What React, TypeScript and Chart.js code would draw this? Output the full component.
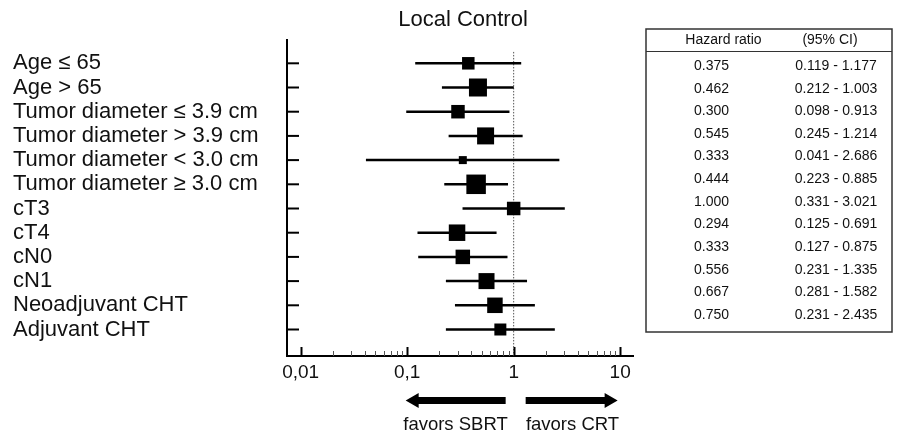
import { useEffect, useRef } from 'react';
import { Chart, registerables } from 'chart.js';

Chart.register(...registerables);

const categories = [
  'Age ≤ 65',
  'Age > 65',
  'Tumor diameter ≤ 3.9 cm',
  'Tumor diameter > 3.9 cm',
  'Tumor diameter < 3.0 cm',
  'Tumor diameter ≥ 3.0 cm',
  'cT3',
  'cT4',
  'cN0',
  'cN1',
  'Neoadjuvant CHT',
  'Adjuvant CHT',
];
const hazardRatio = [0.375, 0.462, 0.3, 0.545, 0.333, 0.444, 1.0, 0.294, 0.333, 0.556, 0.667, 0.75];
const ciLower = [0.119, 0.212, 0.098, 0.245, 0.041, 0.223, 0.331, 0.125, 0.127, 0.231, 0.281, 0.231];
const ciUpper = [1.177, 1.003, 0.913, 1.214, 2.686, 0.885, 3.021, 0.691, 0.875, 1.335, 1.582, 2.435];
// relative study weight shown as the side of each square
const weights = [12.5, 18, 13.5, 17, 8, 19.5, 13.5, 16.5, 14.5, 16, 15.5, 12];
const xTickValues = [0.01, 0.1, 1, 10];
const xTickLabels = ['0,01', '0,1', '1', '10'];
const tableHeaders = ['Hazard ratio', '(95% CI)'];
const arrowLabels = ['favors SBRT', 'favors CRT'];
const chartTitle = 'Local Control';

const FONT = "'Liberation Sans', Arial, Helvetica, sans-serif";

function buildXTicks() {
  const out: { value: number; major?: boolean }[] = [];
  for (let d = 0; d < xTickValues.length; d++) {
    const base = xTickValues[d];
    out.push({ value: base, major: true });
    if (d < xTickValues.length - 1) {
      for (let k = 2; k <= 9; k++) out.push({ value: base * k });
    }
  }
  return out;
}

const decorPlugin = {
  id: 'decor',
  afterDraw(chart: any) {
    const ctx: CanvasRenderingContext2D = chart.ctx;
    const { left, bottom } = chart.chartArea;
    const xs = chart.scales.x;
    const ys = chart.scales.y;
    ctx.save();

    // inward y ticks
    ctx.strokeStyle = '#000';
    ctx.lineWidth = 2;
    ys.ticks.forEach((t: any) => {
      const py = ys.getPixelForValue(t.value);
      ctx.beginPath();
      ctx.moveTo(left, py);
      ctx.lineTo(left + 12, py);
      ctx.stroke();
    });

    // inward x ticks
    xs.ticks.forEach((t: any) => {
      const major = xTickValues.includes(t.value);
      const px = Math.round(xs.getPixelForValue(t.value)) + 0.5;
      ctx.lineWidth = major ? 2 : 1;
      ctx.strokeStyle = major ? '#000' : '#555';
      ctx.beginPath();
      ctx.moveTo(px, bottom);
      ctx.lineTo(px, bottom - (major ? 9 : 5));
      ctx.stroke();
    });

    // title
    ctx.fillStyle = '#111';
    ctx.textAlign = 'center';
    ctx.textBaseline = 'middle';
    ctx.font = `22px ${FONT}`;
    ctx.fillText(chartTitle, 463, 20);

    // arrows
    const ay = 400.5;
    const drawArrow = (fromV: number, toV: number) => {
      const x0 = xs.getPixelForValue(fromV);
      const x1 = xs.getPixelForValue(toV);
      const dir = Math.sign(x1 - x0);
      const headLen = 13;
      const xh = x1 - dir * headLen;
      ctx.beginPath();
      ctx.moveTo(x0, ay - 3.5);
      ctx.lineTo(xh, ay - 3.5);
      ctx.lineTo(xh, ay - 7.5);
      ctx.lineTo(x1, ay);
      ctx.lineTo(xh, ay + 7.5);
      ctx.lineTo(xh, ay + 3.5);
      ctx.lineTo(x0, ay + 3.5);
      ctx.closePath();
      ctx.fill();
    };
    ctx.fillStyle = '#000';
    drawArrow(0.841, 0.0968);
    drawArrow(1.296, 9.47);
    ctx.fillStyle = '#111';
    ctx.font = `18.5px ${FONT}`;
    ctx.fillText(arrowLabels[0], 455.5, 425);
    ctx.fillText(arrowLabels[1], 572.5, 425);

    // table
    const tl = 646, tr = 892, tt = 29, tb = 332, th = 51;
    ctx.strokeStyle = '#333';
    ctx.lineWidth = 1.5;
    ctx.strokeRect(tl, tt, tr - tl, tb - tt);
    ctx.lineWidth = 1;
    ctx.beginPath();
    ctx.moveTo(tl, th + 0.5);
    ctx.lineTo(tr, th + 0.5);
    ctx.stroke();
    ctx.font = `14px ${FONT}`;
    ctx.fillStyle = '#111';
    ctx.fillText(tableHeaders[0], 723.5, 40.5);
    ctx.fillText(tableHeaders[1], 830, 40.5);
    hazardRatio.forEach((hr, i) => {
      const y = 66 + i * 22.65;
      ctx.fillText(hr.toFixed(3), 711.5, y);
      ctx.fillText(`${ciLower[i].toFixed(3)} - ${ciUpper[i].toFixed(3)}`, 836, y);
    });

    ctx.restore();
  },
};

export default function App() {
  const ref = useRef<HTMLCanvasElement>(null);

  useEffect(() => {
    const ciSets = categories.map((_, i) => ({
      type: 'line' as const,
      data: [
        { x: ciLower[i], y: i },
        { x: ciUpper[i], y: i },
      ],
      borderColor: '#000',
      borderWidth: 2.5,
      pointRadius: 0,
      fill: false,
      order: 1,
    }));
    const hrSet = {
      type: 'scatter' as const,
      data: hazardRatio.map((v, i) => ({ x: v, y: i })),
      pointStyle: 'rect',
      pointRadius: (c: any) => weights[c.dataIndex] / Math.SQRT2,
      backgroundColor: '#000',
      borderWidth: 0,
      order: 0,
    };
    const refLine = {
      type: 'line' as const,
      data: [
        { x: 1, y: -0.47 },
        { x: 1, y: 12.095 },
      ],
      borderColor: '#555',
      borderWidth: 1,
      borderDash: [1.5, 1.5],
      pointRadius: 0,
      fill: false,
      order: 2,
    };

    const chart = new Chart(ref.current!, {
      type: 'scatter',
      data: { datasets: [refLine, ...ciSets, hrSet] as any },
      options: {
        responsive: false,
        animation: false,
        layout: { padding: { left: 13, right: 265, top: 40, bottom: 0 } },
        plugins: {
          legend: { display: false },
          tooltip: { enabled: false },
          title: { display: false },
        },
        scales: {
          x: {
            type: 'logarithmic',
            position: 'bottom',
            min: 0.00744,
            max: 13.2,
            afterBuildTicks: (s: any) => {
              s.ticks = buildXTicks();
            },
            afterFit: (s: any) => {
              s.height = 79;
            },
            grid: { display: false, drawTicks: false },
            border: { display: true, color: '#000', width: 2 },
            ticks: {
              autoSkip: false,
              maxRotation: 0,
              minRotation: 0,
              padding: 5,
              color: '#111',
              font: { family: FONT, size: 19 },
              callback: (v: any) => {
                const i = xTickValues.indexOf(Number(v));
                return i >= 0 ? xTickLabels[i] : '';
              },
            },
          },
          y: {
            type: 'linear',
            reverse: true,
            min: -0.963,
            max: 12.095,
            afterBuildTicks: (s: any) => {
              s.ticks = categories.map((_, i) => ({ value: i }));
            },
            afterFit: (s: any) => {
              s.width = 274;
            },
            grid: { display: false, drawTicks: false },
            border: { display: true, color: '#000', width: 2 },
            ticks: {
              autoSkip: false,
              crossAlign: 'far',
              padding: 0,
              color: '#111',
              font: { family: FONT, size: 22 },
              callback: (v: any) => categories[Number(v)] ?? '',
            },
          },
        },
      },
      plugins: [decorPlugin],
    });
    return () => chart.destroy();
  }, []);

  return (
    <div style={{ position: 'absolute', left: 0, top: 0, width: 898, height: 435, background: '#fff' }}>
      <canvas ref={ref} width={898} height={435} style={{ display: 'block' }} />
    </div>
  );
}
